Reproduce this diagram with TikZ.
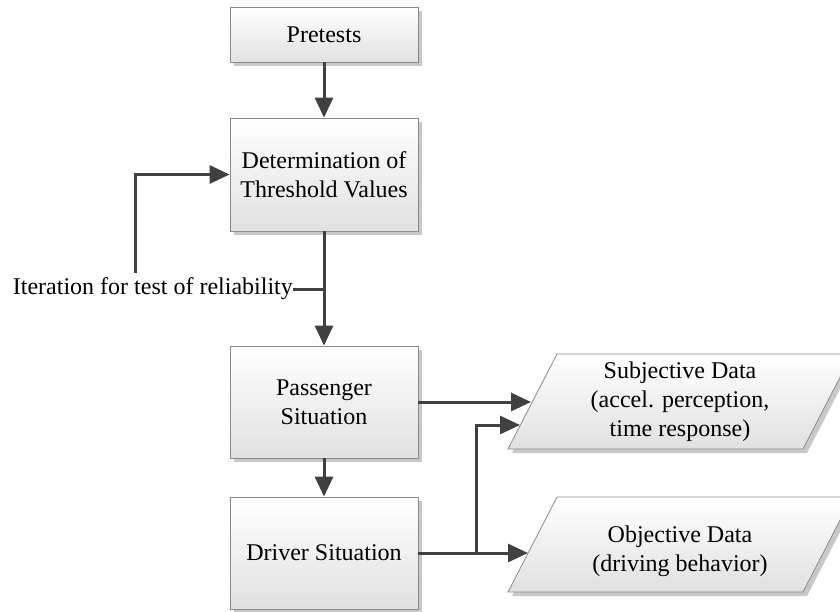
\documentclass[tikz,border=0pt]{standalone}
\usepackage{fontspec}
\setmainfont{Liberation Serif}
\usetikzlibrary{arrows.meta,shadows,calc}
\definecolor{linecol}{HTML}{404040}
\definecolor{boxedge}{HTML}{8A8A8A}
\definecolor{shadowcol}{HTML}{C8C8C8}
\tikzset{
  procbox/.style={draw=boxedge, line width=0.8pt, top color=white, bottom color=black!12,
    minimum width=188pt, align=center, inner sep=2pt,
    general shadow={shadow xshift=4pt, shadow yshift=-4pt, fill=shadowcol}},
  databox/.style={draw=boxedge, line width=0.8pt, top color=white, bottom color=black!12,
    general shadow={shadow xshift=4pt, shadow yshift=-4pt, fill=shadowcol}},
  conn/.style={draw=linecol, line width=3pt},
  arr/.style={conn, -{Triangle[length=20pt,width=18pt]}},
  txt/.style={align=center, inner sep=0pt}
}
\begin{document}
\begin{tikzpicture}[x=1pt,y=-1pt,font=\fontsize{24}{29}\selectfont]
\useasboundingbox (0,0) rectangle (840,611);
\node[procbox, minimum height=55pt] (pre) at (324,34.5) {Pretests};
\node[procbox, minimum height=113pt] (det) at (324,174.5) {Determination of\\Threshold Values};
\node[procbox, minimum height=112pt] (pass) at (324,402) {Passenger\\Situation};
\node[procbox, minimum height=112pt] (drv) at (324,553) {Driver Situation};
% data parallelograms
\path[databox] (557,354) -- (852,354) -- (803,449) -- (508,449) -- cycle;
\path[databox] (557,497) -- (852,497) -- (803,592) -- (508,592) -- cycle;
\node[txt] (subj) at (680,402) {Subjective Data\\(accel. perception,\\time response)};
\node[txt] (obj) at (680,551) {Objective Data\\(driving behavior)};
\coordinate (subjin1) at (531,402);
\coordinate (subjin2) at (520,425);
\coordinate (objin) at (528,553);
\coordinate (branch) at (476,553);
% label
\node[anchor=east, inner sep=0pt] (iter) at (293,289) {Iteration for test of reliability};
\coordinate (fb) at (135,273);
% connectors
\draw[arr] (pre.south) -- (det.north);
\draw[arr] (det.south) -- (pass.north);
\draw[conn] (iter.east) -- (det.south |- iter.east);
\draw[arr] (fb) |- (det.west);
\draw[arr] (pass.south) -- (drv.north);
\draw[arr] (pass.east) -- (subjin1);
\draw[arr] (drv.east) -- (objin);
\draw[arr] (branch) |- (subjin2);
\end{tikzpicture}
\end{document}
